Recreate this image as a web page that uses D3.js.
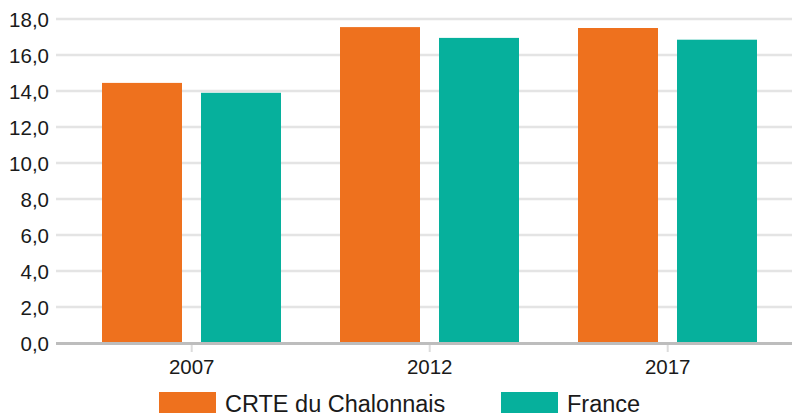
<!DOCTYPE html>
<html><head><meta charset="utf-8">
<script src="https://cdn.jsdelivr.net/npm/d3@7"></script>
<style>body{margin:0;background:#fff}svg{display:block;font-family:"Liberation Sans",Arial,sans-serif}</style>
</head><body><svg id="c" width="792" height="414"></svg>
<script>
const years = ["2007","2012","2017"];
const seriesNames = ["CRTE du Chalonnais","France"];
const crte = [14.45, 17.55, 17.5];
const france = [13.9, 16.95, 16.85];
const yTicks = [0,2,4,6,8,10,12,14,16,18];
const colors = ["#ee711e","#06b09c"];

const svg = d3.select("#c");
const y = d3.scaleLinear().domain([0,18]).range([343,19]);
const x = d3.scaleBand().domain(years).range([72.7,786.7]);
const xs = d3.scaleBand().domain(seriesNames).range([29.3,208.3]).paddingInner(19/99);
const fmt = v => d3.format(".1f")(v).replace(".",",");

// gridlines
svg.append("g").selectAll("line").data(yTicks.filter(t=>t>0)).join("line")
  .attr("x1",56).attr("x2",792).attr("y1",d=>y(d)).attr("y2",d=>y(d))
  .attr("stroke","#e4e4e4").attr("stroke-width",2.6);

// bars
const data = years.map((yr,i)=>({yr, vals:[crte[i],france[i]]}));
const g = svg.append("g");
data.forEach(d=>{
  d.vals.forEach((v,j)=>{
    g.append("rect").attr("x",x(d.yr)+xs(seriesNames[j])).attr("width",xs.bandwidth())
      .attr("y",y(v)).attr("height",y(0)-y(v)).attr("fill",colors[j]);
  });
});

// baseline
svg.append("line").attr("x1",56).attr("x2",792).attr("y1",y(0)+0.5).attr("y2",y(0)+0.5)
  .attr("stroke","#bdbdbd").attr("stroke-width",3);

// x ticks & labels
const xg = svg.append("g");
years.forEach(yr=>{
  const cx = x(yr)+x.bandwidth()/2;
  xg.append("line").attr("x1",cx).attr("x2",cx).attr("y1",345).attr("y2",352)
    .attr("stroke","#dcdcdc").attr("stroke-width",2);
  xg.append("text").attr("x",cx).attr("y",374).attr("text-anchor","middle")
    .attr("font-size",20.5).attr("fill","#1a1a1a").text(yr);
});

// y labels
svg.append("g").selectAll("text").data(yTicks).join("text")
  .attr("x",49).attr("y",d=>y(d)+7.5).attr("text-anchor","end")
  .attr("font-size",20.5).attr("fill","#1a1a1a").text(fmt);

// legend
const legX = [159,501];
seriesNames.forEach((n,j)=>{
  svg.append("rect").attr("x",legX[j]).attr("y",392).attr("width",57).attr("height",21).attr("fill",colors[j]);
  svg.append("text").attr("x",legX[j]+66).attr("y",411.5).attr("font-size",23.5).attr("fill","#1a1a1a").text(n);
});
</script></body></html>
